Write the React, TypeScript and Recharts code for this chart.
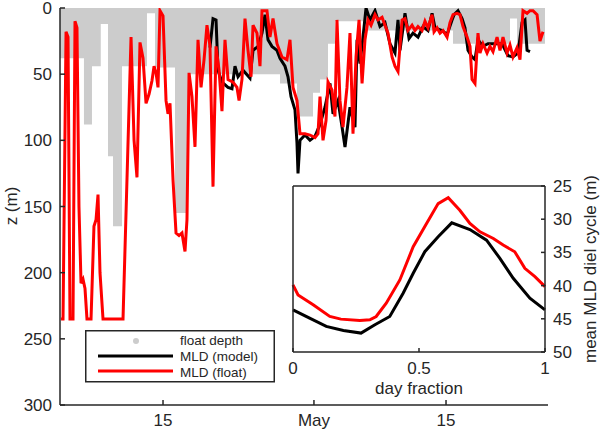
import { ComposedChart, LineChart, Line, Area, XAxis, YAxis, Legend } from 'recharts'

// main panel: [days since 1 Apr, depth (m)]
const floatDepth: [number, number][] = [
  [3.08, 38], [5.62, 88], [6.47, 44], [7.4, 12], [8.17, 112], [8.7, 165], [9.65, 44],
  [12.3, 4], [13.15, 45], [15.27, 155], [16.65, 50], [26.4, 57], [28.2, 82], [29.9, 64],
  [30.64, 54], [31.49, 27], [32.23, 10], [35.2, 17], [44.74, 27], [50.78, 8], [51.53, 27], [54.49, 27],
]

const mldFloat: [number, number][] = [
  [3.19, 235], [3.4, 235], [3.72, 18], [3.93, 22], [4.14, 235], [4.46, 235], [4.67, 10], [4.88, 15],
  [5.09, 150], [5.31, 208], [5.52, 205], [5.73, 212], [5.94, 235], [6.37, 235], [6.68, 165], [6.9, 160],
  [7.11, 141], [7.32, 200], [7.64, 235], [9.76, 235], [10.61, 22], [10.93, 100], [11.24, 128], [11.56, 26],
  [11.88, 38], [12.2, 72], [12.52, 65], [12.83, 55], [13.05, 44], [13.26, 49], [13.47, 60], [13.68, 2],
  [14.0, 6], [14.32, 70], [14.53, 80], [14.74, 72], [15.06, 130], [15.38, 170], [15.7, 172], [16.01, 170],
  [16.33, 184], [16.54, 160], [16.76, 49], [17.07, 67], [17.39, 105], [17.71, 24], [18.03, 60], [18.35, 39],
  [18.66, 13], [18.98, 29], [19.3, 135], [19.62, 29], [19.94, 47], [20.25, 78], [20.57, 24], [20.89, 54],
  [21.42, 56], [21.84, 60], [22.06, 70], [22.37, 54], [22.69, 8], [23.01, 32], [23.33, 52], [23.54, 13],
  [23.96, 19], [24.28, 44], [24.49, 2], [25.02, 2], [25.34, 22], [25.66, 8], [26.08, 27], [26.61, 37],
  [27.14, 39], [27.46, 24], [27.78, 60], [28.2, 70], [28.52, 95], [29.05, 95], [29.58, 96], [30.11, 98],
  [30.43, 95], [30.64, 67], [30.96, 100], [31.28, 85], [31.49, 56], [31.91, 62], [32.23, 82], [32.44, 9],
  [32.76, 70], [33.08, 90], [33.5, 60], [33.82, 19], [34.14, 95], [34.46, 37], [34.78, 9], [35.1, 57],
  [35.41, 24], [35.73, 9], [36.05, 13], [36.47, 5], [36.79, 9], [37.22, 7], [37.53, 13], [37.85, 19],
  [38.28, 37], [38.59, 44], [38.91, 48], [39.34, 9], [39.65, 8], [39.97, 17], [40.4, 13], [40.71, 17],
  [41.03, 14], [41.46, 17], [41.77, 10], [42.09, 15], [42.52, 5], [42.73, 18], [43.05, 15], [43.36, 19],
  [43.68, 17], [44.11, 22], [44.42, 11], [44.74, 5], [45.17, 4], [45.48, 5], [45.8, 14], [46.23, 22],
  [46.54, 29], [46.76, 54], [47.07, 57], [47.39, 19], [47.6, 34], [47.92, 27], [48.35, 34], [48.66, 29],
  [48.98, 33], [49.41, 22], [49.72, 32], [50.04, 22], [50.47, 34], [50.78, 28], [51.1, 37], [51.53, 30],
  [51.84, 39], [52.16, 2], [52.59, 4], [52.9, 2], [53.22, 2], [53.65, 5], [53.96, 25], [54.28, 18],
]

const mldModel: [number, number][] = [
  [18.98, 30], [19.3, 8], [19.62, 9], [19.83, 47], [20.25, 56], [20.89, 60], [21.31, 61], [21.63, 44],
  [21.95, 52], [22.48, 47], [23.22, 53], [23.54, 32], [24.07, 29], [24.49, 19], [24.81, 5], [25.13, 24],
  [25.55, 29], [26.08, 32], [26.4, 38], [26.93, 44], [27.25, 52], [27.57, 67], [27.99, 77], [28.2, 102],
  [28.31, 125], [28.52, 100], [29.05, 96], [29.58, 100], [30.11, 97], [30.64, 88], [31.17, 75], [31.7, 57],
  [32.02, 80], [32.55, 70], [32.98, 90], [33.29, 105], [33.82, 75], [34.35, 90], [34.57, 24], [34.88, 42],
  [35.2, 22], [35.52, 0], [35.94, 9], [36.47, 2], [37.0, 14], [37.53, 11], [38.06, 27], [38.59, 34],
  [38.91, 9], [39.12, 32], [39.65, 4], [40.08, 23], [40.5, 19], [41.03, 22], [41.56, 14], [42.09, 17],
  [42.52, 4], [42.83, 15], [43.58, 17], [44.11, 20], [44.64, 9], [44.85, 5], [45.27, 2], [45.7, 8],
  [46.01, 15], [46.33, 32], [46.76, 37], [47.07, 39], [47.39, 24], [47.92, 29], [48.45, 27], [49.19, 27],
  [49.94, 27], [50.57, 36], [51.1, 37], [51.63, 34], [52.06, 11], [52.37, 9], [52.59, 32], [52.9, 33],
]

// inset: [day fraction, mean MLD (m)]
const dielFloat: [number, number][] = [
  [0, 39.9], [0.02, 41.4], [0.08, 42.9], [0.146, 44.65], [0.19, 45.05], [0.265, 45.25], [0.305, 45.15],
  [0.33, 44.65], [0.37, 42.65], [0.424, 39.15], [0.477, 34.15], [0.53, 30.65], [0.576, 27.65],
  [0.616, 26.75], [0.662, 28.65], [0.702, 30.65], [0.742, 31.9], [0.795, 32.9], [0.834, 33.9],
  [0.88, 34.9], [0.92, 37.4], [0.96, 38.65], [1, 40.15],
]

const dielModel: [number, number][] = [
  [0, 43.65], [0.066, 44.9], [0.132, 46.15], [0.2, 46.75], [0.27, 47.15], [0.325, 45.9], [0.384, 44.65],
  [0.437, 41.15], [0.477, 38.15], [0.523, 34.9], [0.576, 32.65], [0.63, 30.55], [0.702, 31.55],
  [0.768, 33.15], [0.821, 35.9], [0.874, 38.9], [0.94, 41.9], [1, 43.65],
]

const dateTicks = [14, 30, 44]
const dateLabels = ['15', 'May', '15']
const depthTicks = [0, 50, 100, 150, 200, 250, 300]
const dielTicks = [25, 30, 35, 40, 45, 50]
const fractionTicks = [0, 0.5, 1]

const FONT = '"Liberation Sans", Arial, Helvetica, sans-serif'
const INK = '#262626'
const GRAY = '#cccccc'

const rows = (pts: [number, number][]) => pts.map(([x, z]) => ({ x, z }))

const tickStyle = { fill: INK, fontSize: 17, fontFamily: FONT }
const axisLine = { stroke: INK, strokeWidth: 1.5 }

function LegendBox() {
  return (
    <svg width={190} height={53} style={{ display: 'block' }}>
      <rect x={0.75} y={0.75} width={188.5} height={51} fill="#fff" stroke={INK} strokeWidth={1.5} />
      <circle cx={51} cy={11} r={3} fill={GRAY} />
      <line x1={13} x2={88} y1={26} y2={26} stroke="#000" strokeWidth={3} />
      <line x1={13} x2={88} y1={41} y2={41} stroke="#ff0000" strokeWidth={3} />
      <g fontFamily={FONT} fontSize={13.5} fill={INK} dominantBaseline="central">
        <text x={95} y={10}>float depth</text>
        <text x={95} y={26}>MLD (model)</text>
        <text x={95} y={42}>MLD (float)</text>
      </g>
    </svg>
  )
}

export default function App() {
  return (
    <div style={{ position: 'absolute', left: 0, top: 0, width: 600, height: 433, background: '#fff', fontFamily: FONT }}>
      <ComposedChart width={600} height={433} margin={{ top: 8, right: 52, left: 0, bottom: 0 }}>
        <XAxis
          dataKey="x"
          type="number"
          domain={[3.08, 54.81]}
          allowDataOverflow
          ticks={dateTicks}
          interval={0}
          tickFormatter={(v: number) => dateLabels[dateTicks.indexOf(v)] ?? ''}
          height={28}
          tickSize={-5}
          tickMargin={14}
          axisLine={axisLine}
          tickLine={axisLine}
          tick={tickStyle}
        />
        <YAxis
          type="number"
          domain={[0, 300]}
          reversed
          allowDataOverflow
          ticks={depthTicks}
          interval={0}
          width={60}
          tickSize={-5}
          tickMargin={13}
          axisLine={axisLine}
          tickLine={axisLine}
          tick={tickStyle}
          label={() => (
            <text x={11} y={206} transform="rotate(-90 11 206)" textAnchor="middle" dominantBaseline="central" fontFamily={FONT} fontSize={17} fill={INK}>
              z (m)
            </text>
          )}
        />
        <Area data={rows(floatDepth)} dataKey="z" type="stepAfter" baseValue={0} fill={GRAY} fillOpacity={1} stroke="none" isAnimationActive={false} />
        <Line data={rows(mldModel)} dataKey="z" stroke="#000" strokeWidth={3} dot={false} isAnimationActive={false} />
        <Line data={rows(mldFloat)} dataKey="z" stroke="#ff0000" strokeWidth={3} dot={false} isAnimationActive={false} />
        <Legend
          layout="vertical"
          align="center"
          verticalAlign="middle"
          wrapperStyle={{ left: 85, top: 330, width: 190, height: 53 }}
          content={() => <LegendBox />}
        />
      </ComposedChart>

      <div style={{ position: 'absolute', left: 285, top: 176 }}>
        <LineChart width={350} height={230} margin={{ top: 9, right: 0, left: 0, bottom: 0 }}>
          <XAxis
            xAxisId="b"
            dataKey="x"
            type="number"
            domain={[0, 1]}
            ticks={fractionTicks}
            interval={0}
            height={54}
            tickSize={-4}
            tickMargin={14}
            axisLine={axisLine}
            tickLine={axisLine}
            tick={tickStyle}
            label={{ value: 'day fraction', position: 'insideBottom', offset: 12, fill: INK, fontSize: 17, fontFamily: FONT }}
          />
          <XAxis xAxisId="t" orientation="top" dataKey="x" type="number" domain={[0, 1]} ticks={fractionTicks} interval={0} height={1} tickSize={-4} tickFormatter={() => ''} axisLine={axisLine} tickLine={axisLine} />
          <YAxis yAxisId="l" orientation="left" type="number" domain={[25, 50]} reversed ticks={dielTicks} interval={0} width={8} tickSize={-4} tickFormatter={() => ''} axisLine={axisLine} tickLine={axisLine} />
          <YAxis
            yAxisId="r"
            orientation="right"
            type="number"
            domain={[25, 50]}
            reversed
            ticks={dielTicks}
            interval={0}
            width={90}
            tickSize={-4}
            tickMargin={12}
            axisLine={axisLine}
            tickLine={axisLine}
            tick={tickStyle}
            label={() => (
              <text x={305} y={93} transform="rotate(-90 305 93)" textAnchor="middle" dominantBaseline="central" fontFamily={FONT} fontSize={17} fill={INK}>
                mean MLD diel cycle (m)
              </text>
            )}
          />
          <Line xAxisId="b" yAxisId="r" data={rows(dielModel)} dataKey="z" stroke="#000" strokeWidth={3} dot={false} isAnimationActive={false} />
          <Line xAxisId="b" yAxisId="r" data={rows(dielFloat)} dataKey="z" stroke="#ff0000" strokeWidth={3} dot={false} isAnimationActive={false} />
        </LineChart>
      </div>
    </div>
  )
}
